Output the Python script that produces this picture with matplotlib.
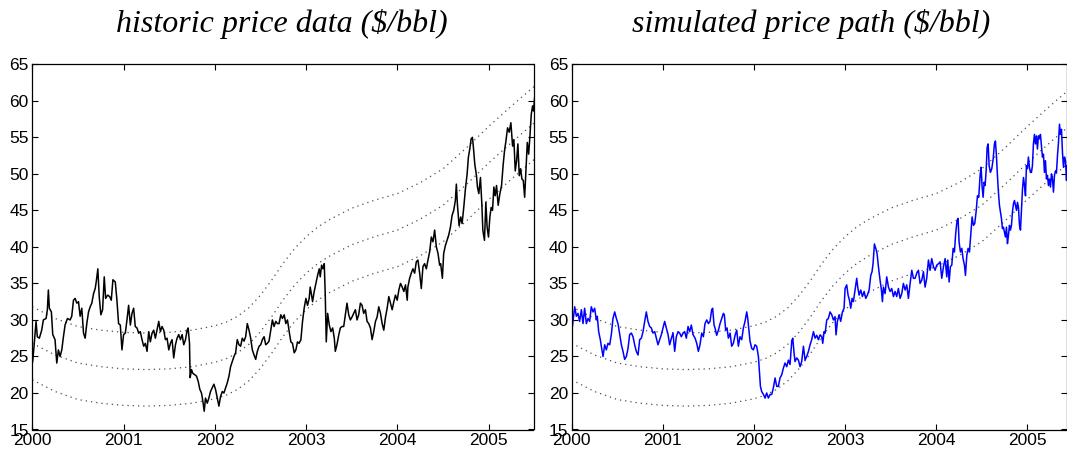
import matplotlib
matplotlib.use("Agg")
import matplotlib.pyplot as plt
import numpy as np

# ---------------- data (years after 2000, $/bbl) ----------------
hist_t = [
    0.004, 0.019, 0.041, 0.055, 0.077, 0.103, 0.121, 0.151, 0.165, 0.176,
    0.187, 0.209, 0.224, 0.249, 0.268, 0.286, 0.304, 0.323, 0.341, 0.359,
    0.385, 0.414, 0.432, 0.451, 0.469, 0.487, 0.506, 0.524, 0.542, 0.561,
    0.579, 0.597, 0.616, 0.634, 0.652, 0.671, 0.689, 0.700, 0.718, 0.733,
    0.751, 0.770, 0.788, 0.803, 0.825, 0.847, 0.865, 0.883, 0.909, 0.927,
    0.945, 0.964, 0.982, 1.000, 1.019, 1.037, 1.055, 1.074, 1.092, 1.110,
    1.128, 1.147, 1.165, 1.183, 1.202, 1.220, 1.238, 1.257, 1.275, 1.293,
    1.312, 1.330,
    1.348, 1.366, 1.385, 1.403, 1.421, 1.440, 1.458, 1.476, 1.495, 1.513,
    1.531, 1.549, 1.568, 1.586, 1.604, 1.623, 1.641, 1.659, 1.678, 1.696,
    1.707, 1.722, 1.729, 1.744, 1.758, 1.780, 1.799, 1.817, 1.835, 1.853,
    1.868, 1.883, 1.897, 1.916, 1.934, 1.952, 1.971, 1.989, 2.007, 2.026,
    2.044, 2.062, 2.081, 2.099, 2.117, 2.136, 2.154, 2.172, 2.190, 2.209,
    2.227, 2.245, 2.264, 2.282, 2.300, 2.319, 2.337, 2.355, 2.374, 2.392,
    2.410, 2.429, 2.447, 2.465, 2.484, 2.502, 2.520, 2.539, 2.557, 2.575,
    2.593, 2.612, 2.630, 2.648, 2.667, 2.685, 2.703,
    2.722, 2.740, 2.759, 2.777, 2.795, 2.814, 2.832, 2.850, 2.869, 2.887,
    2.905, 2.923, 2.942, 2.960, 2.978, 2.997, 3.015, 3.033, 3.044, 3.059,
    3.070, 3.088, 3.107, 3.125, 3.143, 3.154, 3.169, 3.184, 3.198, 3.209,
    3.220, 3.235, 3.253, 3.271, 3.290, 3.308, 3.319, 3.337, 3.356, 3.374,
    3.392, 3.411, 3.429, 3.447, 3.466, 3.484, 3.502, 3.521, 3.539, 3.557,
    3.575, 3.594, 3.612, 3.630, 3.649, 3.667, 3.685, 3.704, 3.722, 3.740,
    3.759, 3.777, 3.795, 3.814, 3.832, 3.850, 3.869, 3.887, 3.905, 3.923,
    3.942, 3.960, 3.978, 3.997, 4.015, 4.033, 4.052, 4.070, 4.088, 4.107,
    4.114, 4.133, 4.151, 4.169, 4.188, 4.206, 4.224, 4.243, 4.261, 4.279,
    4.297, 4.316, 4.334, 4.352, 4.371, 4.389, 4.407, 4.426, 4.444, 4.462,
    4.473, 4.492, 4.506, 4.525, 4.543, 4.561, 4.580, 4.598, 4.616, 4.634,
    4.645, 4.656, 4.675, 4.693, 4.708, 4.726, 4.744, 4.763, 4.777, 4.792,
    4.807, 4.821, 4.832, 4.847, 4.865, 4.876, 4.891, 4.909, 4.924, 4.935,
    4.953, 4.968, 4.982, 4.997, 5.012, 5.026, 5.041, 5.056, 5.070, 5.085,
    5.103, 5.122, 5.140, 5.158, 5.173, 5.188, 5.206, 5.224, 5.242, 5.261,
    5.275, 5.290, 5.305, 5.319, 5.334, 5.349, 5.363, 5.378, 5.393, 5.407,
    5.422, 5.437, 5.451, 5.466, 5.480, 5.491, 5.502,
]
hist_price = [
    24.3, 26.4, 29.8, 27.7, 27.5, 28.6, 30.0, 30.2, 31.4, 34.1,
    31.6, 31.1, 28.0, 27.3, 24.1, 25.9, 25.0, 25.9, 27.7, 29.3,
    30.2, 30.0, 30.5, 32.7, 32.95, 32.3, 32.5, 30.5, 31.6, 28.2,
    27.5, 29.5, 31.1, 31.8, 32.3, 33.6, 34.3, 35.2, 37.0, 33.2,
    30.7, 31.4, 35.9, 32.95, 33.4, 33.2, 32.7, 35.5, 35.2, 32.7,
    29.5, 29.3, 25.9, 28.0, 28.2, 30.0, 32.0, 29.3, 30.9, 31.6,
    29.1, 28.9, 28.2, 28.4, 27.3, 26.4, 26.8, 25.7, 28.4, 27.0,
    28.2, 28.6,
    27.5, 28.6, 29.8, 28.4, 29.1, 28.6, 27.3, 27.5, 25.9, 26.8,
    27.3, 24.8, 26.6, 27.5, 28.0, 27.3, 28.0, 26.6, 27.3, 28.6,
    28.9, 26.8, 22.1, 23.2, 22.7, 22.5, 22.3, 21.6, 20.5, 20.0,
    18.9, 17.5, 19.3, 18.6, 19.3, 20.2, 20.7, 21.2, 20.5, 19.3,
    18.2, 19.5, 20.2, 20.0, 20.7, 21.4, 22.3, 23.6, 24.3, 25.0,
    25.5, 27.3, 26.6, 26.4, 27.5, 27.1, 27.7, 29.5, 28.6, 27.5,
    25.9, 25.2, 24.6, 25.7, 26.4, 26.6, 27.3, 27.7, 26.6, 26.8,
    27.1, 28.6, 30.0, 29.1, 29.8, 29.5, 29.5,
    30.7, 30.2, 30.7, 29.5, 30.0, 28.4, 27.0, 26.8, 25.5, 25.9,
    27.0, 26.8, 27.3, 29.8, 31.6, 32.95, 32.0, 32.95, 34.5, 33.4,
    32.5, 33.9, 35.0, 36.1, 37.0, 35.9, 37.5, 37.0, 37.7, 33.4,
    27.0, 30.9, 29.3, 28.4, 28.9, 27.5, 25.7, 26.6, 27.9, 28.9,
    29.1, 29.1, 30.7, 32.3, 30.7, 30.0, 30.4, 30.9, 31.4, 30.0,
    30.7, 32.3, 32.0, 30.9, 31.4, 29.8, 29.5, 28.9, 27.3, 28.4,
    29.8, 30.4, 31.8, 30.9, 29.5, 28.6, 30.4, 31.6, 33.2, 32.3,
    31.4, 32.5, 33.4, 32.7, 34.1, 35.0, 34.5, 33.9, 34.8, 32.7,
    34.5, 35.7, 36.4, 37.0, 36.4, 37.95, 38.2, 36.4, 34.3, 37.3,
    37.7, 37.0, 38.2, 39.3, 41.35, 40.7, 42.3, 40.0, 39.1, 37.5,
    37.7, 35.7, 39.1, 40.2, 40.9, 41.6, 42.7, 44.3, 45.0, 46.35,
    48.6, 45.9, 42.9, 44.1, 43.2, 45.4, 47.9, 50.0, 52.3, 53.4,
    54.8, 55.0, 53.6, 51.3, 49.8, 48.2, 47.3, 49.5, 45.9, 42.3,
    40.9, 46.1, 42.7, 41.35, 44.1, 45.4, 45.0, 48.2, 47.0, 48.4,
    45.7, 47.3, 48.4, 51.3, 53.2, 54.5, 56.3, 55.7, 57.0, 53.8,
    54.7, 50.4, 51.8, 54.1, 49.75, 50.7, 49.3, 49.1, 46.8, 50.4,
    54.3, 52.7, 55.2, 58.2, 59.3, 58.6, 60.4,
]

sim_t = [
    0.003, 0.014, 0.033, 0.051, 0.069, 0.087, 0.106, 0.124, 0.142, 0.161,
    0.179, 0.197, 0.215, 0.234, 0.252, 0.270, 0.281, 0.296, 0.314, 0.325,
    0.344, 0.362, 0.380, 0.398, 0.417, 0.435, 0.453, 0.472, 0.490, 0.508,
    0.527, 0.545, 0.563, 0.581, 0.600, 0.618, 0.636, 0.655, 0.673, 0.691,
    0.709, 0.728, 0.746, 0.764, 0.783, 0.801, 0.819, 0.837, 0.856, 0.874,
    0.892, 0.911, 0.929, 0.947, 0.966, 0.984, 1.002, 1.020, 1.039, 1.057,
    1.075, 1.094, 1.112, 1.130, 1.148, 1.167, 1.185, 1.203, 1.222, 1.240,
    1.258, 1.277, 1.295, 1.313, 1.331,
    1.354, 1.372, 1.390, 1.408, 1.427, 1.445, 1.463, 1.482, 1.500, 1.518,
    1.536, 1.547, 1.562, 1.573, 1.591, 1.610, 1.628, 1.646, 1.665, 1.675,
    1.690, 1.705, 1.719, 1.738, 1.756, 1.774, 1.793, 1.811, 1.829, 1.847,
    1.866, 1.884, 1.902, 1.921, 1.932, 1.946, 1.957, 1.976, 1.994, 2.012,
    2.030, 2.049, 2.060, 2.071, 2.085, 2.104, 2.122, 2.140, 2.158, 2.177,
    2.195, 2.213, 2.232, 2.250, 2.268, 2.286, 2.305, 2.323, 2.341, 2.360,
    2.378, 2.396, 2.415, 2.426, 2.440, 2.451, 2.469, 2.488, 2.506, 2.524,
    2.543, 2.561, 2.579, 2.598, 2.616, 2.634, 2.653, 2.671, 2.689, 2.707,
    2.726, 2.744, 2.755, 2.770, 2.781, 2.799, 2.817, 2.835, 2.854, 2.872,
    2.890, 2.901, 2.916, 2.934, 2.952, 2.971, 2.989, 3.000, 3.018, 3.033,
    3.048, 3.062, 3.077, 3.091, 3.110, 3.128, 3.139, 3.154, 3.172, 3.190,
    3.209, 3.227, 3.245, 3.264, 3.282, 3.296, 3.307, 3.322, 3.337, 3.351,
    3.366, 3.384, 3.399, 3.410, 3.421, 3.439, 3.457, 3.476, 3.494, 3.512,
    3.531, 3.549, 3.567, 3.585, 3.604, 3.622, 3.640, 3.659, 3.677, 3.695,
    3.714, 3.732, 3.750, 3.768, 3.787, 3.805, 3.823, 3.842, 3.860, 3.878,
    3.896, 3.915, 3.933, 3.951, 3.970, 3.988, 4.006, 4.025, 4.043, 4.061,
    4.080,
    4.098, 4.116, 4.127, 4.142, 4.156, 4.171, 4.186, 4.200, 4.215, 4.229,
    4.240, 4.251, 4.266, 4.281, 4.295, 4.310, 4.321, 4.336, 4.350, 4.365,
    4.379, 4.394, 4.409, 4.423, 4.438, 4.453, 4.467, 4.482, 4.493, 4.504,
    4.515, 4.526, 4.537, 4.548, 4.559, 4.570, 4.581, 4.595, 4.610, 4.625,
    4.639, 4.650, 4.661, 4.672, 4.683, 4.694, 4.705, 4.716, 4.727, 4.738,
    4.749, 4.760, 4.771, 4.782, 4.793, 4.804, 4.815, 4.826, 4.837, 4.848,
    4.859, 4.870, 4.881, 4.892, 4.903, 4.914, 4.925, 4.936, 4.947, 4.958,
    4.969, 4.980, 4.990, 5.001, 5.012, 5.023, 5.034, 5.045, 5.056, 5.067,
    5.078, 5.089, 5.100, 5.111, 5.122, 5.133, 5.144, 5.155, 5.166, 5.177,
    5.188, 5.199, 5.210, 5.221, 5.232, 5.243, 5.254, 5.265, 5.276, 5.287,
    5.298, 5.309, 5.320, 5.331, 5.342, 5.353, 5.364, 5.375, 5.386, 5.397,
    5.408, 5.419, 5.430, 5.437,
]
sim_price = [
    28.6, 29.8, 31.8, 30.5, 30.9, 29.8, 31.4, 29.5, 31.6, 29.5,
    30.2, 29.8, 31.8, 31.1, 31.6, 30.0, 30.5, 28.4, 27.3, 26.4,
    25.0, 26.6, 25.9, 26.8, 26.6, 28.0, 30.2, 31.1, 30.2, 29.5,
    28.0, 26.6, 25.7, 24.6, 25.0, 26.1, 28.0, 28.2, 27.7, 26.6,
    25.7, 25.2, 27.3, 27.5, 28.4, 29.8, 31.1, 29.8, 29.1, 28.9,
    28.2, 28.4, 27.5, 26.6, 27.3, 28.0, 28.9, 29.8, 28.9, 28.0,
    26.6, 27.5, 28.2, 25.7, 27.7, 28.4, 28.2, 27.7, 28.2, 28.4,
    27.5, 29.1, 28.4, 29.3, 28.0,
    27.5, 26.8, 25.7, 26.6, 28.2, 27.7, 29.5, 30.0, 29.5, 29.8,
    31.4, 31.6, 29.3, 28.9, 27.9, 28.6, 29.5, 30.2, 30.9, 30.7,
    28.6, 28.9, 27.5, 28.2, 26.4, 26.8, 27.9, 28.6, 26.4, 27.7,
    27.3, 28.9, 29.8, 31.1, 30.2, 28.4, 27.1, 26.1, 25.9, 26.6,
    26.4, 25.0, 22.96, 20.9, 20.2, 19.8, 19.3, 20.0, 19.3, 19.8,
    19.8, 20.7, 22.05, 20.9, 20.9, 22.05, 22.5, 23.4, 24.1, 23.6,
    24.5, 23.9, 27.1, 27.5, 25.5, 24.3, 24.8, 24.5, 23.6, 24.3,
    26.4, 24.5, 25.0, 25.7, 26.6, 27.3, 28.4, 27.5, 27.9, 27.3,
    27.96, 27.7, 26.8, 28.4, 28.2, 30.0, 30.2, 31.1, 30.7, 30.0,
    30.45, 27.96, 29.8, 30.7, 29.8, 31.1, 31.6, 34.3, 34.8, 33.4,
    32.7, 31.6, 32.95, 32.5, 34.1, 35.7, 34.5, 33.4, 34.1, 33.2,
    33.9, 32.95, 33.4, 34.1, 36.1, 36.6, 37.7, 40.4, 39.8, 39.1,
    37.3, 35.45, 34.1, 32.5, 34.5, 33.6, 35.9, 34.5, 33.9, 34.3,
    33.2, 33.9, 33.2, 34.3, 32.95, 33.6, 35.0, 34.1, 34.8, 32.95,
    35.0, 36.8, 35.7, 35.7, 36.4, 36.8, 35.0, 35.45, 36.6, 34.5,
    35.7, 38.2, 36.8, 38.4, 37.3, 36.8, 37.5, 37.7, 37.95, 35.7,
    37.3,
    38.4, 35.9, 38.2, 35.2, 37.3, 37.5, 39.8, 39.3, 42.0, 43.6,
    43.9, 40.7, 39.3, 39.8, 38.4, 37.5, 36.1, 38.85, 39.8, 39.3,
    41.6, 44.1, 42.95, 43.2, 44.8, 47.0, 46.8, 49.8, 50.9, 48.2,
    46.8, 48.85, 48.4, 50.4, 53.6, 54.1, 51.1, 50.2, 50.7, 52.0,
    54.1, 54.5, 52.5, 49.8, 47.5, 45.7, 44.8, 43.9, 42.5, 42.7,
    42.0, 41.35, 42.7, 40.45, 41.6, 42.95, 42.3, 42.95, 44.8, 45.9,
    46.35, 45.7, 45.0, 46.1, 45.4, 42.95, 42.3, 45.2, 47.9, 49.5,
    48.4, 47.0, 51.1, 50.7, 52.3, 50.9, 50.2, 50.2, 51.1, 54.1,
    55.4, 54.1, 55.2, 53.4, 55.2, 54.8, 55.4, 53.8, 52.3, 52.7,
    50.2, 51.8, 49.3, 49.8, 48.4, 49.3, 48.2, 50.0, 49.3, 47.5,
    49.8, 50.4, 50.2, 52.5, 54.3, 56.8, 55.4, 56.1, 52.9, 50.9,
    52.3, 51.8, 49.1, 51.1,
]

# dotted mean / band curves
band_t = [0.0, 0.25, 0.5, 0.75, 1.0, 1.25, 1.5, 1.75, 2.0, 2.125, 2.25, 2.375,
          2.5, 2.625, 2.75, 2.875, 3.0, 3.125, 3.25, 3.5, 3.75, 4.0, 4.25,
          4.5, 4.75, 5.0, 5.25, 5.5]
band_mid = [26.8, 25.2, 24.1, 23.6, 23.3, 23.2, 23.3, 23.6, 24.2, 24.7, 25.5,
            26.7, 28.4, 30.5, 32.8, 34.8, 36.4, 37.7, 38.7, 40.3, 41.4, 42.3,
            43.8, 45.7, 48.5, 51.5, 54.3, 57.0]
band_upper = [31.8, 30.2, 29.1, 28.6, 28.3, 28.2, 28.3, 28.6, 29.2, 29.7, 30.5,
              31.7, 33.4, 35.5, 37.8, 39.8, 41.4, 42.7, 43.7, 45.3, 46.4, 47.3,
              48.8, 50.7, 53.5, 56.5, 59.3, 62.0]
band_lower = [21.8, 20.2, 19.1, 18.6, 18.3, 18.2, 18.3, 18.6, 19.2, 19.7, 20.5,
              21.7, 23.4, 25.5, 27.8, 29.8, 31.4, 32.7, 33.7, 35.3, 36.4, 37.3,
              38.8, 40.7, 43.5, 46.5, 49.3, 52.0]

year_ticks = [2000, 2001, 2002, 2003, 2004, 2005]
price_ticks = [15, 20, 25, 30, 35, 40, 45, 50, 55, 60, 65]
titles = ["historic price data (\\$/bbl)", "simulated price path (\\$/bbl)"]

# ---------------- figure ----------------
W, H = 1067, 454
fig = plt.figure(figsize=(W / 100, H / 100), dpi=100)

def px_axes(x0, x1, y_top, y_bot):
    return fig.add_axes([x0 / W, 1 - y_bot / H, (x1 - x0) / W, (y_bot - y_top) / H])

ax1 = px_axes(32.3, 533.5, 64.3, 429.5)
ax2 = px_axes(571.7, 1066.5, 64.3, 429.5)

base = year_ticks[0]
series = [(ax1, hist_t, hist_price, "black", 2000 + 5.49),
          (ax2, sim_t, sim_price, "#0000ff", 2000 + 5.43)]

for ax, t, p, col, xend in series:
    for b in (band_upper, band_mid, band_lower):
        ax.plot(base + np.asarray(band_t), b, color="0.3",
                linestyle=(0, (1, 3.2)), lw=0.9, zorder=1)
    ax.plot(base + np.asarray(t), p, color=col, lw=1.1, zorder=2)
    ax.set_xlim(2000, xend)
    ax.set_ylim(15, 65)
    ax.set_xticks(year_ticks)
    ax.set_yticks(price_ticks)
    ax.tick_params(direction="in", length=4, width=0.8, top=True, right=True,
                   labelsize=12.5, pad=2.5)
    for lab in ax.get_xticklabels() + ax.get_yticklabels():
        lab.set_fontfamily("Liberation Sans")
    for s in ax.spines.values():
        s.set_linewidth(0.9)

fig.text(282 / W, 1 - 32 / H, titles[0], ha="center", va="baseline",
         fontsize=23, fontstyle="italic", family="Liberation Serif")
fig.text(811 / W, 1 - 32 / H, titles[1], ha="center", va="baseline",
         fontsize=23, fontstyle="italic", family="Liberation Serif")

fig.savefig("out.png", dpi=100)
